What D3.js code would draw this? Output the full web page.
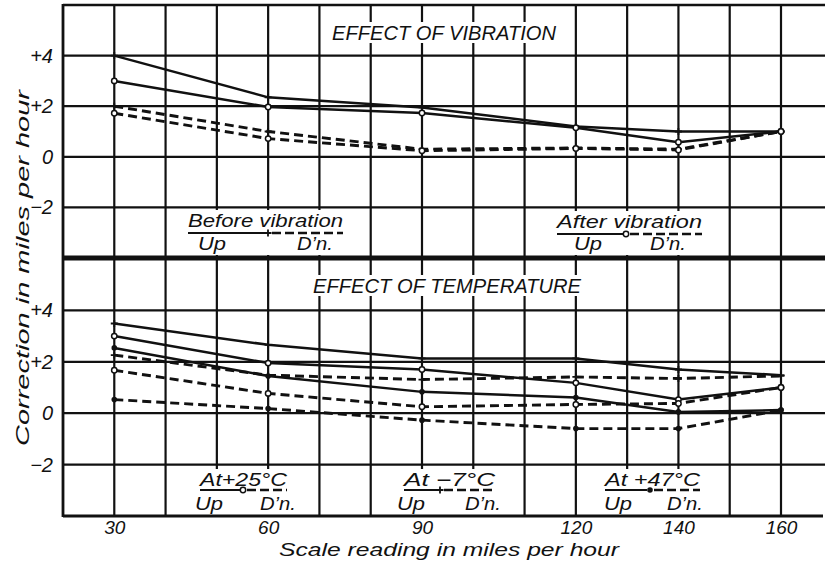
<!DOCTYPE html>
<html>
<head>
<meta charset="utf-8">
<script src="https://cdn.jsdelivr.net/npm/d3@7/dist/d3.min.js"></script>
<style>
body { margin: 0; background: #fff; }
text { font-family: "Liberation Sans", Arial, sans-serif; font-style: italic; fill: #111; }
</style>
</head>
<body>
<div id="chart"></div>
<script>
// speeds where readings were taken
let speeds = [30, 60, 90, 120, 140, 160];
let xTicks = [30, 60, 90, 120, 140, 160];
let yTicks = [4, 2, 0, -2];

// effect of vibration (correction, mph)
let beforeUp = [4.0, 2.35, 1.95, 1.2, 1.0, 1.0];
let beforeDn = [2.0, 1.0, 0.3, 0.35, 0.3, 1.0];
let afterUp = [3.0, 1.97, 1.73, 1.15, 0.58, 1.0];
let afterDn = [1.72, 0.72, 0.24, 0.33, 0.27, 1.0];

// effect of temperature (correction, mph)
let warmUp = [3.0, 1.95, 1.7, 1.18, 0.53, 1.0];      // +25 C
let warmDn = [1.67, 0.77, 0.25, 0.34, 0.38, 1.0];
let coldUp = [3.49, 2.66, 2.13, 2.13, 1.7, 1.48];    // -7 C
let coldDn = [2.26, 1.48, 1.31, 1.41, 1.35, 1.45];
let hotUp = [2.54, 1.45, 0.83, 0.61, 0.05, 0.12];    // +47 C
let hotDn = [0.53, 0.18, -0.27, -0.6, -0.6, 0.12];

let W = 825, H = 562;
let left = 63, top1 = 5, sep = 258, bottom = 516;

let svg = d3.select("#chart").append("svg")
    .attr("width", W)
    .attr("height", H);

let x = d3.scaleLinear()
    .domain([20, 160])
    .range([left, 781]);

let yTop = d3.scaleLinear()
    .domain([-4, 6])
    .range([sep, top1]);

let yBot = d3.scaleLinear()
    .domain([-4, 6])
    .range([bottom, sep + 1]);

// vertical grid, whole height
svg.append("g")
    .selectAll("line")
    .data(d3.range(30, 170, 10))
    .join("line")
    .attr("x1", d => x(d)).attr("x2", d => x(d))
    .attr("y1", top1).attr("y2", bottom)
    .attr("stroke", "#111")
    .attr("stroke-width", 2.2);

function fmt(d) {
    if (d > 0) return "+" + d;
    if (d < 0) return "\u2212" + (-d);
    return "0";
}

function marker(g, type, cx, cy) {
    if (type === "o") {
        g.append("circle").attr("cx", cx).attr("cy", cy).attr("r", 2.7)
            .attr("fill", "#fff").attr("stroke", "#111").attr("stroke-width", 1.5);
    } else if (type === "+") {
        g.append("path")
            .attr("d", "M" + (cx - 3.5) + "," + cy + "h7M" + cx + "," + (cy - 3.5) + "v7")
            .attr("stroke", "#111").attr("stroke-width", 1.8);
    } else {
        g.append("circle").attr("cx", cx).attr("cy", cy).attr("r", 2.8).attr("fill", "#111");
    }
}

function fitText(sel, w) {
    // squeeze or stretch a label to the width it has in the drawing
    return sel.attr("textLength", w).attr("lengthAdjust", "spacingAndGlyphs");
}

function drawPanel(y, title, tx, ty, tlen, series, legends) {
    let g = svg.append("g");

    // horizontal grid
    g.append("g")
        .selectAll("line")
        .data(yTicks)
        .join("line")
        .attr("x1", left).attr("x2", W)
        .attr("y1", d => y(d)).attr("y2", d => y(d))
        .attr("stroke", "#111")
        .attr("stroke-width", 2.2);

    // tick labels
    let ax = d3.axisLeft(y).tickValues(yTicks).tickSize(0).tickPadding(10).tickFormat(fmt);
    g.append("g")
        .attr("transform", "translate(" + left + ",0)")
        .call(ax)
        .call(a => a.select(".domain").remove())
        .selectAll("text")
        .attr("font-family", null)
        .attr("font-size", 20)
        .style("font-style", "italic")
        .attr("fill", "#111");

    // title with white box behind
    let t = fitText(g.append("text")
        .attr("x", tx).attr("y", ty)
        .attr("text-anchor", "middle")
        .style("font-size", "21px")
        .text(title), tlen);
    let bb = t.node().getBBox();
    g.insert("rect", () => t.node())
        .attr("x", bb.x - 3).attr("y", bb.y + 1)
        .attr("width", bb.width + 6).attr("height", bb.height - 2)
        .attr("fill", "#fff");

    let line = d3.line()
        .x((d, i) => x(speeds[i]))
        .y(d => y(d));

    series.forEach(s => {
        g.append("path")
            .datum(s.values)
            .attr("d", line)
            .attr("fill", "none")
            .attr("stroke", "#111")
            .attr("stroke-width", s.dash ? 2.9 : 2.5)
            .attr("stroke-dasharray", s.dash ? "9,5" : null);
    });
    series.forEach(s => {
        s.values.forEach((v, i) => marker(g, s.mark, x(speeds[i]), y(v)));
    });

    // legends
    legends.forEach(l => {
        let lg = g.append("g");
        let tw = fitText(lg.append("text")
            .attr("x", (l.x0 + l.x1) / 2).attr("y", l.ty)
            .attr("text-anchor", "middle")
            .style("font-size", "18px")
            .text(l.label), l.x1 - l.x0);
        let b = tw.node().getBBox();
        lg.insert("rect", () => tw.node())
            .attr("x", l.x0 - 4).attr("y", b.y - 1)
            .attr("width", l.x1 - l.x0 + 8).attr("height", l.sy - b.y + 6)
            .attr("fill", "#fff");
        lg.append("line")
            .attr("x1", l.x0).attr("x2", l.xm - 3)
            .attr("y1", l.ly).attr("y2", l.ly)
            .attr("stroke", "#111").attr("stroke-width", 2.2);
        lg.append("line")
            .attr("x1", l.xm + 4).attr("x2", l.x1)
            .attr("y1", l.ly).attr("y2", l.ly)
            .attr("stroke", "#111").attr("stroke-width", 2.4)
            .attr("stroke-dasharray", "9,4");
        marker(lg, l.mark, l.xm, l.ly);
        fitText(lg.append("text")
            .attr("x", l.up).attr("y", l.sy)
            .attr("text-anchor", "middle")
            .style("font-size", "18px")
            .text("Up"), 28);
        fitText(lg.append("text")
            .attr("x", l.dn).attr("y", l.sy)
            .attr("text-anchor", "middle")
            .style("font-size", "18px")
            .text("D\u2019n."), 36);
    });
}

drawPanel(yTop, "EFFECT OF VIBRATION", 444, 40, 224, [
    {values: beforeUp, mark: "+", dash: false},
    {values: afterUp, mark: "o", dash: false},
    {values: beforeDn, mark: "+", dash: true},
    {values: afterDn, mark: "o", dash: true}
], [
    {label: "Before vibration", x0: 188, x1: 343, xm: 268, ty: 227, ly: 233, sy: 250, up: 212, dn: 315, mark: "+"},
    {label: "After vibration", x0: 557, x1: 702, xm: 626, ty: 228, ly: 234, sy: 250, up: 588, dn: 668, mark: "o"}
]);

drawPanel(yBot, "EFFECT OF TEMPERATURE", 447, 293, 268, [
    {values: coldUp, mark: "+", dash: false},
    {values: warmUp, mark: "o", dash: false},
    {values: hotUp, mark: "dot", dash: false},
    {values: coldDn, mark: "+", dash: true},
    {values: warmDn, mark: "o", dash: true},
    {values: hotDn, mark: "dot", dash: true}
], [
    {label: "At+25\u00b0C", x0: 200, x1: 287, xm: 243, ty: 486, ly: 490, sy: 510, up: 209, dn: 278, mark: "o"},
    {label: "At \u22127\u00b0C", x0: 404, x1: 495, xm: 440, ty: 486, ly: 490, sy: 510, up: 411, dn: 483, mark: "+"},
    {label: "At +47\u00b0C", x0: 605, x1: 700, xm: 650, ty: 486, ly: 490, sy: 510, up: 618, dn: 685, mark: "dot"}
]);

// frame
svg.append("line")
    .attr("x1", left).attr("x2", left).attr("y1", top1 - 1).attr("y2", bottom + 1)
    .attr("stroke", "#111").attr("stroke-width", 2.8);
svg.append("line")
    .attr("x1", left).attr("x2", W).attr("y1", top1).attr("y2", top1)
    .attr("stroke", "#111").attr("stroke-width", 2.4);
svg.append("line")
    .attr("x1", left).attr("x2", 823).attr("y1", bottom).attr("y2", bottom)
    .attr("stroke", "#111").attr("stroke-width", 2.8);
svg.append("line")
    .attr("x1", left).attr("x2", W).attr("y1", sep).attr("y2", sep)
    .attr("stroke", "#111").attr("stroke-width", 4.8);

// x axis labels
let xAxis = d3.axisBottom(x).tickValues(xTicks).tickSize(0).tickPadding(5);
svg.append("g")
    .attr("transform", "translate(0," + bottom + ")")
    .call(xAxis)
    .call(a => a.select(".domain").remove())
    .selectAll("text")
    .attr("font-family", null)
    .attr("font-size", 19)
    .style("font-style", "italic")
    .attr("fill", "#111");

fitText(svg.append("text")
    .attr("x", 449).attr("y", 556)
    .attr("text-anchor", "middle")
    .style("font-size", "18px")
    .text("Scale reading in miles per hour"), 340);

fitText(svg.append("text")
    .attr("transform", "translate(29,268) rotate(-90)")
    .attr("text-anchor", "middle")
    .style("font-size", "18px")
    .text("Correction in miles per hour"), 356);
</script>
</body>
</html>
